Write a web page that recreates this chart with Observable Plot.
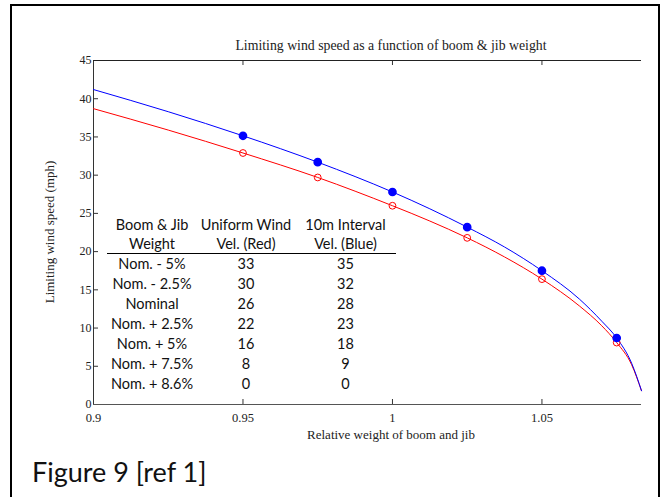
<!DOCTYPE html>
<html><head><meta charset="utf-8">
<script src="https://cdn.jsdelivr.net/npm/d3@7"></script>
<script src="https://cdn.jsdelivr.net/npm/@observablehq/plot@0.6"></script>
<style>
body{margin:0;background:#fff;}
#wrap{position:relative;width:661px;height:497px;overflow:hidden;background:#fff;}
#wrap svg{position:absolute;left:0;top:0;}
.border{position:absolute;left:10px;top:4px;width:646px;height:520px;border:2px solid #000;box-sizing:content-box;}
.serif{position:absolute;font-family:"Liberation Serif","Times New Roman",serif;color:#222;white-space:nowrap;line-height:1;}
#title{left:391px;top:39px;font-size:13.8px;transform:translateX(-50%);}
#xlabel{left:391px;top:428px;font-size:13px;transform:translateX(-50%);}
#ylabel{left:49px;top:232px;font-size:13px;transform:translate(-50%,-50%) rotate(-90deg);}
#caption{position:absolute;left:32px;top:458px;font-family:Lato,"Open Sans",sans-serif;font-size:27px;line-height:1;color:#111;white-space:nowrap;}
#tbl{position:absolute;left:107px;top:215px;border-collapse:collapse;font-family:Lato,"Open Sans",sans-serif;font-size:14.5px;color:#111;}
#tbl td{padding:0;height:20px;line-height:20px;text-align:center;white-space:nowrap;}
#tbl tr.h2 td{height:18px;line-height:18px;border-bottom:1.5px solid #000;}
</style></head><body>
<div id="wrap">
  <div class="border"></div>
</div>
<script>
// Curve samples: relative weight -> limiting wind speed (mph)
const weights   = [0.9, 0.925, 0.95, 0.975, 1.0, 1.0125, 1.025, 1.0375, 1.05, 1.0625, 1.07, 1.075, 1.08, 1.0833];
const blueSpeed = [41.2, 38.3, 35.15, 31.7, 27.8, 25.6, 23.2, 20.6, 17.5, 13.8, 10.9, 8.7, 5.4, 1.8];
const redSpeed  = [38.7, 35.9, 32.9, 29.7, 26.0, 24.0, 21.8, 19.3, 16.4, 12.9, 10.3, 8.1, 5.2, 1.8];

// Marker points
const markerWeights = [0.95, 0.975, 1.0, 1.025, 1.05, 1.075];
const blueMarkers   = [35.15, 31.7, 27.8, 23.2, 17.5, 8.7];
const redMarkers    = [32.9, 29.7, 26.0, 21.8, 16.4, 8.1];

// Axis ticks
const xTicks = [0.9, 0.95, 1, 1.05];
const yTicks = [0, 5, 10, 15, 20, 25, 30, 35, 40, 45];

// Table contents
const tableWeights = ["Nom. - 5%", "Nom. - 2.5%", "Nominal", "Nom. + 2.5%", "Nom. + 5%", "Nom. + 7.5%", "Nom. + 8.6%"];
const tableRed  = [33, 30, 26, 22, 16, 8, 0];
const tableBlue = [35, 32, 28, 23, 18, 9, 0];
const tableHeader1 = ["Boom & Jib", "Uniform Wind", "10m Interval"];
const tableHeader2 = ["Weight", "Vel. (Red)", "Vel. (Blue)"];

const W = 661, H = 497, mL = 93, mT = 60, mR = 20, mB = 93;
const innerW = W - mL - mR, innerH = H - mT - mB;

const blueData = weights.map((w, i) => ({w, v: blueSpeed[i]}));
const redData  = weights.map((w, i) => ({w, v: redSpeed[i]}));
const blueM = markerWeights.map((w, i) => ({w, v: blueMarkers[i]}));
const redM  = markerWeights.map((w, i) => ({w, v: redMarkers[i]}));

const chart = Plot.plot({
  width: W, height: H,
  marginLeft: mL, marginTop: mT, marginRight: mR, marginBottom: mB,
  style: {background: "transparent", fontFamily: "Liberation Serif, Times New Roman, serif", fontSize: "12.5px", color: "#222"},
  x: {domain: [0.9, 1.0833]},
  y: {domain: [0, 45]},
  marks: [
    Plot.axisX(xTicks, {tickSize: 0, tickPadding: 9, tickFormat: d => String(d), label: null, fontSize: 12.5}),
    Plot.axisY(yTicks, {tickSize: 0, tickPadding: 2, tickFormat: d => String(d), label: null, fontSize: 12}),
    Plot.tickX(xTicks, {x: d => d, insetTop: innerH - 5, stroke: "#333"}),
    Plot.tickX(xTicks, {x: d => d, insetBottom: innerH - 5, stroke: "#333"}),
    Plot.tickY(yTicks, {y: d => d, insetRight: innerW - 5, stroke: "#333"}),
    Plot.ruleX([0.9], {stroke: "#333"}),
    Plot.ruleY([0], {stroke: "#555", strokeWidth: 1.2}),
    Plot.ruleY([45], {stroke: "#222"}),
    Plot.line(redData, {x: "w", y: "v", stroke: "#ff0000", strokeWidth: 1, curve: "monotone-x"}),
    Plot.line(blueData, {x: "w", y: "v", stroke: "#0000ff", strokeWidth: 1, curve: "monotone-x"}),
    Plot.dot(redM, {x: "w", y: "v", r: 3.4, stroke: "#ff0000", fill: "none", strokeWidth: 1}),
    Plot.dot(blueM, {x: "w", y: "v", r: 3.6, fill: "#0000ff", stroke: "#0000ff"})
  ]
});
const wrap = document.getElementById("wrap");
wrap.insertBefore(chart, wrap.firstChild);

function addDiv(id, cls, text) {
  const d = document.createElement("div");
  d.id = id; if (cls) d.className = cls; d.textContent = text;
  wrap.appendChild(d);
}
addDiv("title", "serif", "Limiting wind speed as a function of boom & jib weight");
addDiv("xlabel", "serif", "Relative weight of boom and jib");
addDiv("ylabel", "serif", "Limiting wind speed (mph)");
addDiv("caption", "", "Figure 9 [ref 1]");

// Table
const tbl = document.createElement("table");
tbl.id = "tbl";
const colW = [90, 98, 101];
function addRow(cells, cls) {
  const tr = document.createElement("tr");
  if (cls) tr.className = cls;
  cells.forEach((c, i) => {
    const td = document.createElement("td");
    td.style.width = colW[i] + "px";
    td.textContent = c;
    tr.appendChild(td);
  });
  tbl.appendChild(tr);
}
addRow(tableHeader1, "h1");
addRow(tableHeader2, "h2");
tableWeights.forEach((w, i) => addRow([w, String(tableRed[i]), String(tableBlue[i])]));
wrap.appendChild(tbl);
</script>
</body></html>
